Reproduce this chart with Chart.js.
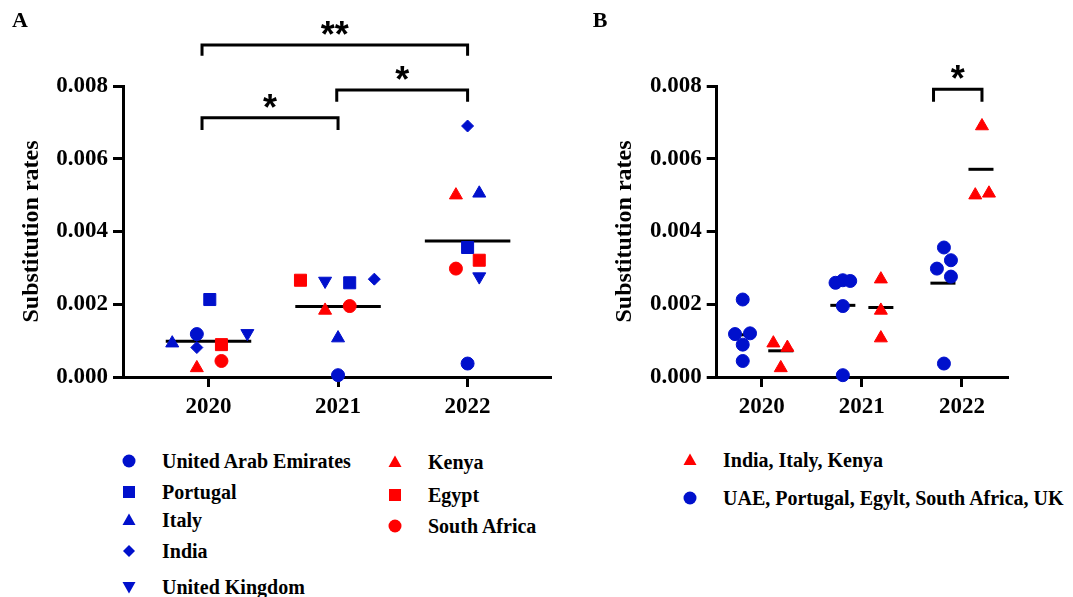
<!DOCTYPE html>
<html>
<head>
<meta charset="utf-8">
<script src="https://cdn.jsdelivr.net/npm/chart.js@4.4.1/dist/chart.umd.min.js"></script>
<style>
  html, body { margin:0; padding:0; background:#fff; }
  #wrap { position:relative; width:1073px; height:597px; overflow:hidden; background:#fff; font-family:"Liberation Serif", serif; font-weight:bold; color:#000; }
  canvas { position:absolute; top:0; }
  .lbl { position:absolute; font-size:20px; line-height:24px; white-space:nowrap; transform:translateY(-50%); }
  .mk { position:absolute; }
  .panel { position:absolute; font-size:22px; line-height:22px; transform:translate(-50%,-50%); }
</style>
</head>
<body>
<div id="wrap">
  <canvas id="cA" width="560" height="430" style="left:0"></canvas>
  <canvas id="cB" width="513" height="430" style="left:560px"></canvas>
  <div class="panel" style="left:20px;top:20px">A</div>
  <div class="panel" style="left:600px;top:20px">B</div>
</div>
<script>
// ---------------- DATA ----------------
const categories = ['2020', '2021', '2022'];
const tickValues = [0, 0.002, 0.004, 0.006, 0.008];

const countryNames = ['United Arab Emirates', 'Portugal', 'Italy', 'India', 'United Kingdom', 'Kenya', 'Egypt', 'South Africa'];
// substitution rates per year [2020, 2021, 2022]
const uae      = [0.00118, 0.00005, 0.00037];
const portugal = [0.00213, 0.00259, 0.00356];
const italy    = [0.00093, 0.00107, 0.00505];
const india    = [0.00081, 0.00269, 0.00690];
const uk       = [0.00120, 0.00264, 0.00276];
const kenya    = [0.00025, 0.00183, 0.00500];
const egypt    = [0.00089, 0.00266, 0.00321];
const sAfrica  = [0.00044, 0.00195, 0.00298];

// group means
const meansA    = [0.00098, 0.00194, 0.00374];
const meansBlue = [0.00116, 0.00197, 0.00258];
const meansRed  = [0.00072, 0.00191, 0.00571];

const groupBNames = ['India, Italy, Kenya', 'UAE, Portugal, Egylt, South Africa, UK'];

// ---------------- LAYOUT / STYLE ----------------
const BLUE = '#0010cc';
const RED = '#ff0000';
const FONT = '"Liberation Serif", "Times New Roman", serif';

// horizontal jitter of each point within its year (category units)
const jitterA = {
  uae:      [-0.09, 0.00, 0.00],
  portugal: [ 0.01, 0.09, 0.00],
  italy:    [-0.28, 0.00, 0.09],
  india:    [-0.09, 0.28, 0.00],
  uk:       [ 0.30,-0.10, 0.09],
  kenya:    [-0.09,-0.10,-0.09],
  egypt:    [ 0.10,-0.29, 0.09],
  sAfrica:  [ 0.10, 0.09,-0.09]
};
const jitterB = {
  uae:      [-0.267,-0.19,-0.18],
  portugal: [-0.19, -0.263,-0.18],
  egypt:    [-0.19, -0.19, -0.11],
  sAfrica:  [-0.19, -0.19, -0.25],
  uk:       [-0.117,-0.116,-0.11],
  india:    [ 0.256, 0.19, 0.20],
  italy:    [ 0.116, 0.19, 0.27],
  kenya:    [ 0.19,  0.19, 0.133]
};

const seriesA = [
  {key:'uae', vals:uae, color:BLUE, style:'circle', r:6.5, rot:0},
  {key:'portugal', vals:portugal, color:BLUE, style:'rect', r:8.5, rot:0},
  {key:'italy', vals:italy, color:BLUE, style:'triangle', r:7.5, rot:0},
  {key:'india', vals:india, color:BLUE, style:'rectRot', r:6, rot:0},
  {key:'uk', vals:uk, color:BLUE, style:'triangle', r:7.5, rot:180},
  {key:'kenya', vals:kenya, color:RED, style:'triangle', r:7.5, rot:0},
  {key:'egypt', vals:egypt, color:RED, style:'rect', r:8.5, rot:0},
  {key:'sAfrica', vals:sAfrica, color:RED, style:'circle', r:6.5, rot:0}
];

function pts(vals, jit) {
  return vals.map((v, i) => ({x: i + jit[i], y: v}));
}
function meanLines(means, center, half) {
  return means.map((m, i) => ({
    type: 'line', data: [{x: i + center - half, y: m}, {x: i + center + half, y: m}],
    borderColor: '#000', borderWidth: 3, pointRadius: 0, showLine: true, order: 5, clip: false
  }));
}

// significance brackets: [x1, x2] in category units, y = bar value, tip = end value, label
const bracketsA = [
  {x1: -0.05, x2: 2.0, y: 0.00913, tip: 0.00883, label: '**'},
  {x1: 0.99, x2: 2.0, y: 0.00789, tip: 0.00757, label: '*'},
  {x1: -0.05, x2: 1.0, y: 0.00713, tip: 0.00679, label: '*'}
];
const bracketsB = [
  {x1: 1.716, x2: 2.2, y: 0.00791, tip: 0.00757, label: '*'}
];

function bracketPlugin(list) {
  return {
    id: 'brackets',
    afterDraw(chart) {
      const {ctx, scales: {x, y}} = chart;
      ctx.save();
      ctx.strokeStyle = '#000';
      ctx.lineWidth = 3;
      ctx.lineJoin = 'miter';
      list.forEach(b => {
        const px1 = x.getPixelForValue(b.x1), px2 = x.getPixelForValue(b.x2);
        const py = y.getPixelForValue(b.y), pt = y.getPixelForValue(b.tip);
        ctx.beginPath();
        ctx.moveTo(px1, pt); ctx.lineTo(px1, py); ctx.lineTo(px2, py); ctx.lineTo(px2, pt);
        ctx.stroke();
        ctx.fillStyle = '#000';
        ctx.font = 'bold 36px "Liberation Sans", Arial, sans-serif';
        ctx.textAlign = 'center';
        ctx.textBaseline = 'alphabetic';
        const cy = py - 19;
        ctx.fillText(b.label, (px1 + px2) / 2, cy + 0.58 * 36);
      });
      ctx.restore();
    }
  };
}

function makeScales(xmin, xmax) {
  return {
    x: {
      type: 'linear', min: xmin, max: xmax,
      afterBuildTicks: (s) => { s.ticks = categories.map((c, i) => ({value: i})); },
      afterFit: (s) => { s.height = 53; },
      ticks: {
        callback: (v) => categories[v] !== undefined ? categories[v] : '',
        color: '#000', padding: 6, maxRotation: 0, autoSkip: false,
        font: {family: FONT, size: 23, weight: 'bold'}
      },
      grid: {display: true, drawOnChartArea: false, drawTicks: true, tickLength: 10, color: '#000', lineWidth: 3},
      border: {display: true, color: '#000', width: 3}
    },
    y: {
      type: 'linear', min: 0, max: 0.008,
      afterBuildTicks: (s) => { s.ticks = tickValues.map(v => ({value: v})); },
      afterFit: (s) => { s.width = 123; },
      ticks: {
        callback: (v) => Number(v).toFixed(3),
        color: '#000', padding: 5,
        font: {family: FONT, size: 23, weight: 'bold'}
      },
      title: {
        display: true, text: 'Substitution rates', color: '#000',
        font: {family: FONT, size: 24, weight: 'bold'}, padding: {top: 17, bottom: 0}
      },
      grid: {display: true, drawOnChartArea: false, drawTicks: true, tickLength: 10, color: '#000', lineWidth: 3},
      border: {display: true, color: '#000', width: 3}
    }
  };
}

const commonOpts = (padLeft, padRight, xmin, xmax) => ({
  responsive: false, animation: false, devicePixelRatio: 1,
  layout: {padding: {top: 86, left: padLeft, right: padRight, bottom: 0}},
  plugins: {legend: {display: false}, tooltip: {enabled: false}},
  scales: makeScales(xmin, xmax)
});

// ---------------- PANEL A ----------------
const dsA = seriesA.map(s => ({
  type: 'scatter', label: s.key, data: pts(s.vals, jitterA[s.key]),
  pointStyle: s.style, pointRadius: s.r, pointRotation: s.rot,
  backgroundColor: s.color, borderColor: s.color, borderWidth: 1, order: 1, clip: false
})).concat(meanLines(meansA, 0, 0.33));

new Chart(document.getElementById('cA'), {
  type: 'scatter',
  data: {datasets: dsA},
  options: commonOpts(0, 5, -0.66, 2.64),
  plugins: [bracketPlugin(bracketsA)]
});

// ---------------- PANEL B ----------------
const blueKeys = ['uae', 'portugal', 'egypt', 'sAfrica', 'uk'];
const redKeys = ['india', 'italy', 'kenya'];
const valsByKey = {uae, portugal, italy, india, uk, kenya, egypt, sAfrica};
const bluePts = [].concat(...blueKeys.map(k => pts(valsByKey[k], jitterB[k])));
const redPts = [].concat(...redKeys.map(k => pts(valsByKey[k], jitterB[k])));

const dsB = [
  {type: 'scatter', data: redPts, pointStyle: 'triangle', pointRadius: 7.5, backgroundColor: RED, borderColor: RED, borderWidth: 1, order: 1, clip: false},
  {type: 'scatter', data: bluePts, pointStyle: 'circle', pointRadius: 6.5, backgroundColor: BLUE, borderColor: BLUE, borderWidth: 1, order: 1, clip: false}
].concat(meanLines(meansBlue, -0.19, 0.125), meanLines(meansRed, 0.19, 0.125));

new Chart(document.getElementById('cB'), {
  type: 'scatter',
  data: {datasets: dsB},
  options: commonOpts(33.7, 66, -0.45, 2.45),
  plugins: [bracketPlugin(bracketsB)]
});

// ---------------- LEGENDS (HTML) ----------------
const wrap = document.getElementById('wrap');
function marker(style, color, cx, cy, rot) {
  const s = 16;
  let shape = '';
  const c = s / 2;
  if (style === 'circle') shape = `<circle cx="${c}" cy="${c}" r="6.5" fill="${color}"/>`;
  else if (style === 'rect') shape = `<rect x="${c-6}" y="${c-6}" width="12" height="12" fill="${color}"/>`;
  else if (style === 'rectRot') shape = `<polygon points="${c},${c-6} ${c+6},${c} ${c},${c+6} ${c-6},${c}" fill="${color}"/>`;
  else if (style === 'triangle') {
    const h = rot ? -1 : 1;
    shape = `<polygon points="${c},${c - 6.5*h} ${c+6.5},${c + 5*h} ${c-6.5},${c + 5*h}" fill="${color}"/>`;
  }
  const el = document.createElement('div');
  el.className = 'mk';
  el.style.left = (cx - c) + 'px';
  el.style.top = (cy - c) + 'px';
  el.innerHTML = `<svg width="${s}" height="${s}">${shape}</svg>`;
  wrap.appendChild(el);
}
function label(text, x, y) {
  const el = document.createElement('div');
  el.className = 'lbl';
  el.style.left = x + 'px';
  el.style.top = y + 'px';
  el.textContent = text;
  wrap.appendChild(el);
}
const legRowsA = [
  [129, 162, 461], [129, 162, 492], [129, 162, 520], [129, 162, 551], [129, 162, 587],
  [395, 428, 462], [395, 428, 495], [395, 428, 526]
];
seriesA.forEach((s, i) => {
  const [mx, tx, yy] = legRowsA[i];
  marker(s.style, s.color, mx, yy, s.rot);
  label(countryNames[i], tx, yy);
});
marker('triangle', RED, 690, 460, 0);
label(groupBNames[0], 723, 460);
marker('circle', BLUE, 690, 498, 0);
label(groupBNames[1], 723, 498);
</script>
</body>
</html>
